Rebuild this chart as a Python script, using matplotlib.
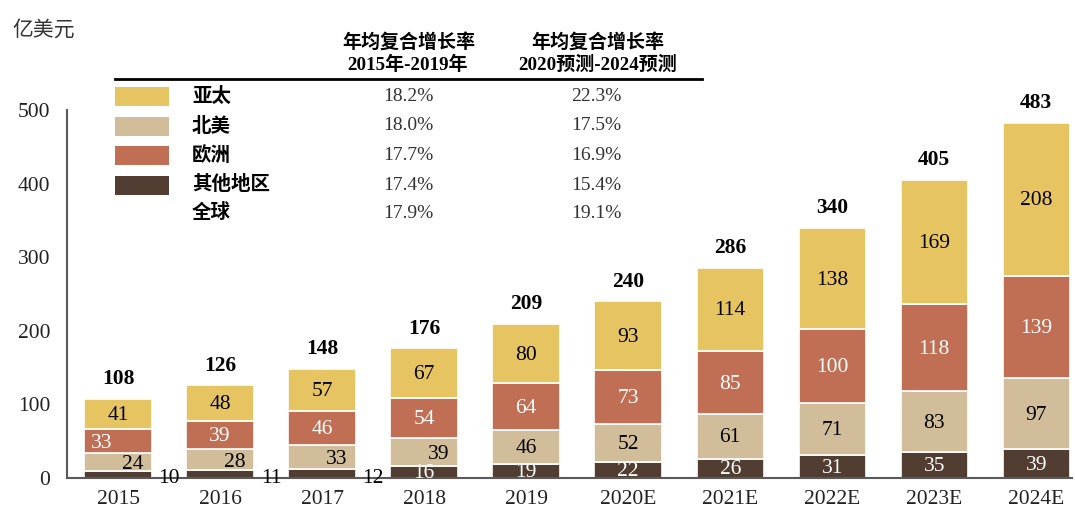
import matplotlib.pyplot as plt
from matplotlib.patches import Rectangle

plt.rcParams['font.family'] = ['Liberation Serif', 'Noto Sans CJK SC']

years = ['2015', '2016', '2017', '2018', '2019', '2020E', '2021E', '2022E', '2023E', '2024E']
other = [10, 11, 12, 16, 19, 22, 26, 31, 35, 39]
namerica = [24, 28, 33, 39, 46, 52, 61, 71, 83, 97]
europe = [33, 39, 46, 54, 64, 73, 85, 100, 118, 139]
apac = [41, 48, 57, 67, 80, 93, 114, 138, 169, 208]
totals = [108, 126, 148, 176, 209, 240, 286, 340, 405, 483]

regions = ['亚太', '北美', '欧洲', '其他地区', '全球']
cagr_1519 = ['18.2%', '18.0%', '17.7%', '17.4%', '17.9%']
cagr_2024 = ['22.3%', '17.5%', '16.9%', '15.4%', '19.1%']

colors = {'亚太': '#E6C462', '北美': '#D1BD9A', '欧洲': '#C06F55', '其他地区': '#513D31'}
W, H = 1075, 512

fig = plt.figure(figsize=(W / 100, H / 100), dpi=100)
ax = fig.add_axes([67 / W, 34 / H, 1005 / W, 368 / H])

x = range(len(years))
bw = 0.66
series = [(other, '其他地区', 'white'), (namerica, '北美', 'black'),
          (europe, '欧洲', 'white'), (apac, '亚太', 'black')]
bottom = [0] * len(years)
for vals, name, tc in series:
    ax.bar(x, vals, bw, bottom=bottom, color=colors[name], edgecolor='white', linewidth=1.2)
    for i, v in enumerate(vals):
        xx, yy, c = i, bottom[i] + v / 2 - 2, tc
        if name == '其他地区' and i < 3:
            xx, yy, c = i + 0.5, -1, 'black'
        elif name == '北美' and i < 4:
            xx, yy = i + 0.14, bottom[i] + v / 2 - 4
        elif name == '欧洲' and i == 0:
            xx, yy = i - 0.16, bottom[i] + v / 2 - 3
        ax.text(xx, yy, str(v), ha='center', va='center', fontsize=15.5, color=c,
                clip_on=False)
    bottom = [b + v for b, v in zip(bottom, vals)]

for i, t in enumerate(totals):
    ax.text(i, t + 20, str(t), ha='center', va='baseline', fontsize=15.5, fontweight='bold')

ax.set_xlim(-0.5, 9.35)
ax.set_ylim(0, 500)
ax.set_yticks([0, 100, 200, 300, 400, 500])
ax.set_xticks(list(x))
ax.set_xticklabels(years)
ax.tick_params(axis='both', length=0, labelsize=15.5, colors='#222222')
ax.tick_params(axis='x', pad=9)
ax.tick_params(axis='y', pad=12)
for s in ['top', 'right']:
    ax.spines[s].set_visible(False)
for s in ['left', 'bottom']:
    ax.spines[s].set_color('#5a5a5a')
    ax.spines[s].set_linewidth(1.5)

cjk = ['Noto Sans CJK SC', 'DejaVu Sans']
mixed = ['Liberation Serif', 'Noto Sans CJK SC']
fig.text(12 / W, 1 - 30 / H, '亿美元', fontsize=15, family=cjk, va='center', color='#333333')

fig.text(409 / W, 1 - 42 / H, '年均复合增长率', fontsize=13.7, fontweight='bold', family=cjk, ha='center', va='center')
fig.text(408 / W, 1 - 65 / H, '2015年-2019年', fontsize=13.7, fontweight='bold',
         family=mixed, ha='center', va='center')
fig.text(598 / W, 1 - 42 / H, '年均复合增长率', fontsize=13.7, fontweight='bold', family=cjk, ha='center', va='center')
fig.text(598 / W, 1 - 65 / H, '2020预测-2024预测', fontsize=13.7, fontweight='bold',
         family=mixed, ha='center', va='center')
fig.add_artist(plt.Line2D([115 / W, 702 / W], [1 - 79 / H, 1 - 79 / H], color='black', linewidth=2))

row_y = [96.5, 126, 155, 185, 213]
for k, name in enumerate(regions):
    yy = 1 - row_y[k] / H
    if name in colors:
        fig.add_artist(Rectangle((115 / W, yy - 9.5 / H), 54 / W, 19 / H,
                                 facecolor=colors[name], edgecolor='none'))
    fig.text(192 / W, yy, name, fontsize=14, fontweight='bold', family=cjk, va='center')
    fig.text(408 / W, yy, cagr_1519[k], fontsize=14, ha='center', va='center', color='#333333')
    fig.text(596 / W, yy, cagr_2024[k], fontsize=14, ha='center', va='center', color='#333333')

fig.savefig('out.png', dpi=100)
